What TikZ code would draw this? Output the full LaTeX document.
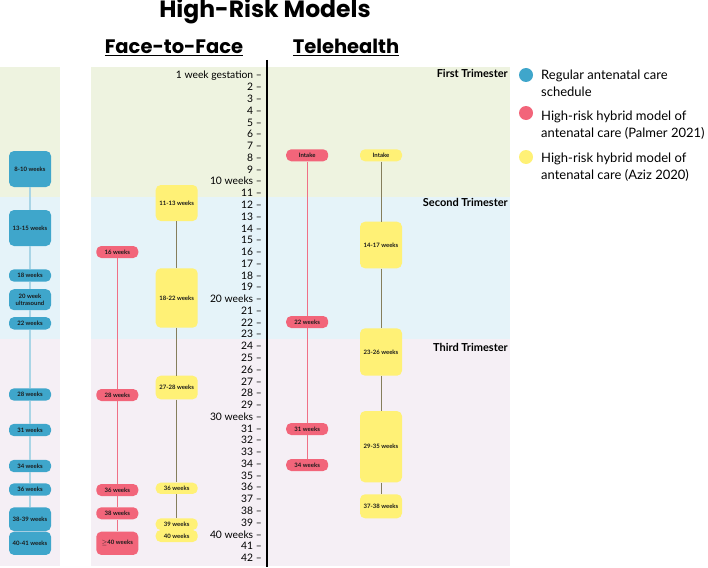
\documentclass[tikz,border=0pt]{standalone}
\usepackage{fontspec}
\setmainfont{Lato}
\newfontfamily\headfont{Poppins}
\usetikzlibrary{positioning}
\definecolor{regblue}{HTML}{3FA6CB}
\definecolor{reglink}{HTML}{A9D5E6}
\definecolor{palpink}{HTML}{F2657A}
\definecolor{pallink}{HTML}{F07086}
\definecolor{azyellow}{HTML}{FFF176}
\definecolor{azlink}{HTML}{857E5C}
\definecolor{firstfill}{HTML}{EEF3E0}
\definecolor{secondfill}{HTML}{E5F3F9}
\definecolor{thirdfill}{HTML}{F5EFF5}
\definecolor{boxtext}{HTML}{1A1A1A}
\tikzset{
  visit/.style={rectangle, rounded corners=5pt, minimum width=42pt, inner sep=1pt,
                align=center, text=boxtext, font=\bfseries\fontsize{6}{7.3}\selectfont},
  regbox/.style={visit, fill=regblue},
  palbox/.style={visit, fill=palpink},
  azbox/.style={visit, fill=azyellow},
  reglk/.style={line width=1.2pt, draw=reglink},
  pallk/.style={line width=1.1pt, draw=pallink},
  azlk/.style={line width=1pt, draw=azlink},
  tick/.style={anchor=east, inner sep=0pt, font=\fontsize{10.3}{12}\selectfont},
  hdr/.style={anchor=base, inner sep=0pt, font=\headfont\bfseries\fontsize{19.5}{23}\selectfont},
  tri/.style={anchor=east, inner sep=0pt, font=\bfseries\fontsize{11}{13}\selectfont},
  dot/.style={circle, minimum size=14pt, inner sep=0pt},
  legtext/.style={anchor=west, align=left, inner sep=0pt, font=\fontsize{13}{17.5}\selectfont}
}
\newcommand{\wklabel}[1]{\ifnum#1=1 1 week gestation\else\ifnum#1=10 10 weeks\else
  \ifnum#1=20 20 weeks\else\ifnum#1=30 30 weeks\else\ifnum#1=40 40 weeks\else
  #1\fi\fi\fi\fi\fi~--}

\begin{document}
\begin{tikzpicture}[x=1pt, y=-1pt]
\useasboundingbox (0,0) rectangle (708,567);

% trimester bands
\fill[firstfill] (0,66.7) rectangle (60,197.3);
\fill[secondfill] (0,197.3) rectangle (60,339);
\fill[thirdfill] (0,339) rectangle (60,565.7);
\fill[firstfill] (91,66.7) rectangle (510,197.3);
\fill[secondfill] (91,197.3) rectangle (510,339);
\fill[thirdfill] (91,339) rectangle (510,565.7);

\node[tri] (first) at (508,73) {First Trimester};
\node[tri] (second) at (508,202) {Second Trimester};
\node[tri] (third) at (508,347) {Third Trimester};

% headings
\node[hdr, font=\headfont\bfseries\fontsize{23.5}{27}\selectfont] (title) at (265,18) {High-Risk Models};
\node[hdr] (f2f) at (174,54) {\underline{Face-to-Face}};
\node[hdr] (tele) at (346,54) {\underline{Telehealth}};

% week axis
\coordinate (axtop) at (267,60);
\coordinate (axbot) at (267,567);
\draw[line width=2.7pt] (axtop) -- (axbot);
\foreach \w in {1,...,42}
  \node[tick] (wk\w) at (262,{75.3+(\w-1)*11.77}) {\wklabel{\w}};

% regular schedule
\node[regbox, minimum height=36pt] (reg8) at (30,169) {8-10 weeks};
\node[regbox, minimum height=36pt] (reg13) at (30,228) {13-15 weeks};
\node[regbox, minimum height=12.4pt] (reg18) at (30,275.5) {18 weeks};
\node[regbox, minimum height=21pt] (reg20) at (30,299.7) {20 week\\ultrasound};
\node[regbox, minimum height=12.4pt] (reg22) at (30,323.3) {22 weeks};
\node[regbox, minimum height=12.4pt] (reg28) at (30,394.5) {28 weeks};
\node[regbox, minimum height=12.4pt] (reg31) at (30,430) {31 weeks};
\node[regbox, minimum height=12.4pt] (reg34) at (30,466) {34 weeks};
\node[regbox, minimum height=12.4pt] (reg36) at (30,489.5) {36 weeks};
\node[regbox, minimum height=23.7pt] (reg38) at (30,519.2) {38-39 weeks};
\node[regbox, minimum height=23.3pt] (reg40) at (30,543.3) {40-41 weeks};
\foreach \a/\b in {reg8/reg13, reg13/reg18, reg18/reg20, reg20/reg22, reg22/reg28,
                   reg28/reg31, reg31/reg34, reg34/reg36, reg36/reg38}
  \draw[reglk] (\a) -- (\b);

% Palmer 2021, face-to-face
\node[palbox, minimum height=12pt] (pal16) at (117.3,252) {16 weeks};
\node[palbox, minimum height=12pt] (pal28) at (117.3,395) {28 weeks};
\node[palbox, minimum height=12pt] (pal36) at (117.3,490) {36 weeks};
\node[palbox, minimum height=12pt] (pal38) at (117.3,513.3) {38 weeks};
\node[palbox, minimum height=23.3pt] (pal40) at (117.3,543.3) {$\geq$40 weeks};
\foreach \a/\b in {pal16/pal28, pal28/pal36, pal36/pal38, pal38/pal40}
  \draw[pallk] (\a) -- (\b);

% Aziz 2020, face-to-face
\node[azbox, minimum height=36pt] (az11) at (176.7,203) {11-13 weeks};
\node[azbox, minimum height=59.4pt] (az18) at (176.7,298) {18-22 weeks};
\node[azbox, minimum height=23.6pt] (az27) at (176.7,387.5) {27-28 weeks};
\node[azbox, minimum height=11.3pt] (az36) at (176.7,488.3) {36 weeks};
\node[azbox, minimum height=11.7pt] (az39) at (176.7,524.2) {39 weeks};
\node[azbox, minimum height=12pt] (az40) at (176.7,536) {40 weeks};
\foreach \a/\b in {az11/az18, az18/az27, az27/az36, az36/az39}
  \draw[azlk] (\a) -- (\b);

% Palmer 2021, telehealth
\node[palbox, minimum height=12pt] (tpin) at (307.2,155.3) {Intake};
\node[palbox, minimum height=12pt] (tp22) at (307.2,322) {22 weeks};
\node[palbox, minimum height=12pt] (tp31) at (307.2,429) {31 weeks};
\node[palbox, minimum height=12pt] (tp34) at (307.2,465) {34 weeks};
\foreach \a/\b in {tpin/tp22, tp22/tp31, tp31/tp34}
  \draw[pallk] (\a) -- (\b);

% Aziz 2020, telehealth
\node[azbox, minimum height=12pt] (tain) at (381,155.3) {Intake};
\node[azbox, minimum height=46.6pt] (ta14) at (381,245) {14-17 weeks};
\node[azbox, minimum height=47.4pt] (ta23) at (381,352) {23-26 weeks};
\node[azbox, minimum height=71.3pt] (ta29) at (381,446.7) {29-35 weeks};
\node[azbox, minimum height=24pt] (ta37) at (381,506.3) {37-38 weeks};
\foreach \a/\b in {tain/ta14, ta14/ta23, ta23/ta29, ta29/ta37}
  \draw[azlk] (\a) -- (\b);

% legend
\node[dot, fill=regblue] (lg1) at (526,75) {};
\node[dot, fill=palpink] (lg2) at (526,113) {};
\node[dot, fill=azyellow] (lg3) at (526,157) {};
\node[legtext] (lt1) at (541,83.5) {Regular antenatal care\\schedule};
\node[legtext] (lt2) at (541,125) {High-risk hybrid model of\\antenatal care (Palmer 2021)};
\node[legtext] (lt3) at (541,167) {High-risk hybrid model of\\antenatal care (Aziz 2020)};
\end{tikzpicture}
\end{document}
